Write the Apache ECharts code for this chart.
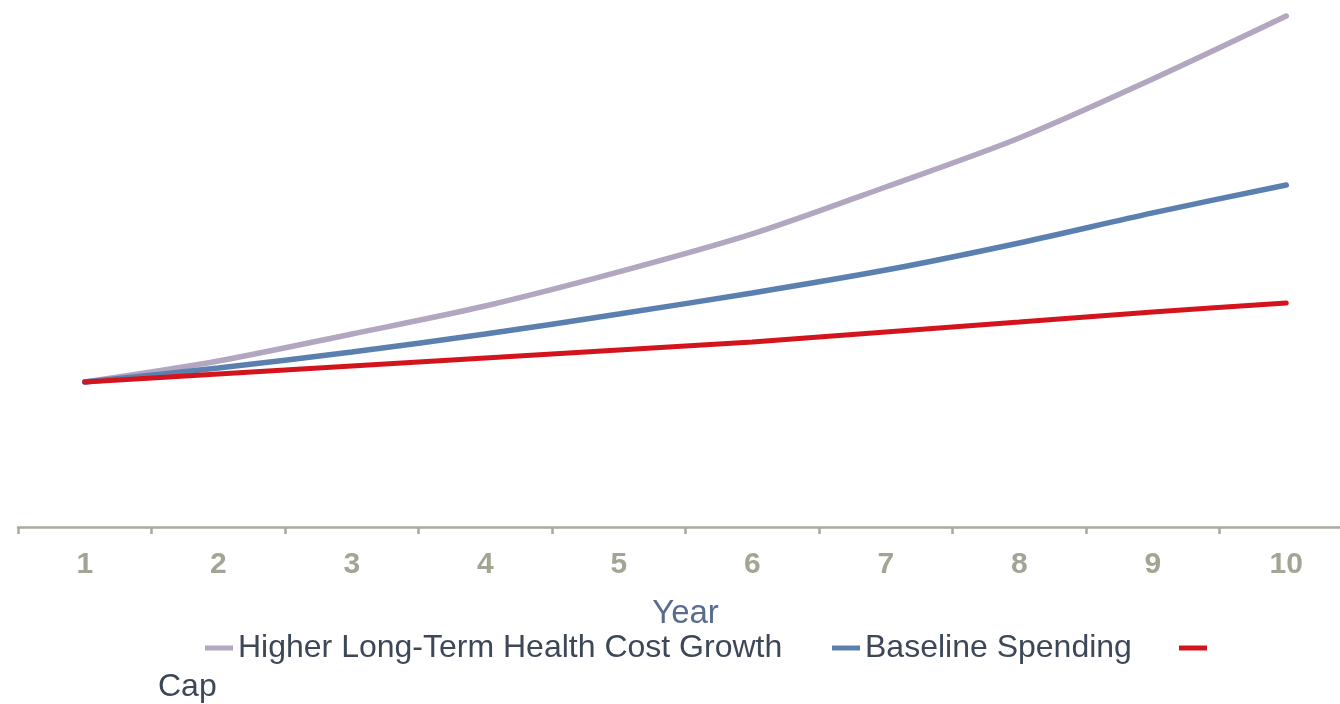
<!DOCTYPE html>
<html>
<head>
<meta charset="utf-8">
<title>Health Spending Projections</title>
<script src="https://cdn.jsdelivr.net/npm/echarts@6/dist/echarts.min.js"></script>
<style>
  html, body { margin: 0; padding: 0; background: #ffffff; overflow: hidden; }
  /* the plot runs slightly past the right edge of the window */
  #chart { width: 1353px; height: 704px; }
</style>
</head>
<body>
<div id="chart"></div>
<script>
// Projection years
const years = ['1', '2', '3', '4', '5', '6', '7', '8', '9', '10'];

// Spending index (year 1 = 100)
const higherGrowth = [100, 114.5, 133.1, 152.4, 175.9, 202.1, 234.5, 268.3, 309.0, 352.4];
const baseline     = [100, 109.7, 120.7, 133.1, 146.9, 161.4, 177.2, 195.9, 216.6, 235.9];
const cap          = [100, 105.5, 111.0, 116.6, 122.1, 127.6, 134.5, 141.4, 148.3, 154.5];

const seriesNames = ['Higher Long-Term Health Cost Growth', 'Baseline Spending', 'Cap'];
const seriesColors = ['#b2a6c0', '#5b80b0', '#d4141c'];

const FONT = '"Liberation Sans", Arial, sans-serif';
const legendText = { color: '#3d4757', fontSize: 32, fontFamily: FONT, lineHeight: 34 };

const chart = echarts.init(document.getElementById('chart'), null, { renderer: 'canvas' });

function legendAt(name, left, showText) {
  return {
    data: [name],
    left: left,
    top: 631,
    orient: 'horizontal',
    icon: 'rect',
    itemWidth: 28,
    itemHeight: 5,
    padding: 0,
    selectedMode: false,
    formatter: showText ? '{name}' : ' ',
    textStyle: legendText
  };
}

chart.setOption({
  animation: false,
  backgroundColor: '#ffffff',
  color: seriesColors,
  grid: { left: 18, right: 0, top: 5, bottom: 177, containLabel: false },
  legend: [
    legendAt(seriesNames[0], 205, true),
    legendAt(seriesNames[1], 832, true),
    legendAt(seriesNames[2], 1179, false)
  ],
  graphic: [{
    type: 'text',
    left: 158,
    top: 671,
    style: { text: 'Cap', fill: '#3d4757', font: '32px ' + FONT }
  }],
  xAxis: {
    type: 'category',
    data: years,
    boundaryGap: true,
    name: 'Year',
    nameLocation: 'middle',
    nameGap: 70,
    nameTextStyle: { color: '#5a6c8e', fontSize: 33, fontFamily: FONT },
    axisLine: { lineStyle: { color: '#a9a99f', width: 2.5 } },
    axisTick: { show: true, length: 7, lineStyle: { color: '#a9a99f', width: 2.5 } },
    axisLabel: { color: '#a4a495', fontSize: 30, fontWeight: 'bold', fontFamily: FONT, margin: 23 },
    splitLine: { show: false }
  },
  yAxis: {
    type: 'value',
    min: 0,
    max: 360,
    show: false,
    splitLine: { show: false }
  },
  series: [
    { name: seriesNames[0], type: 'line', data: higherGrowth, smooth: 0.3, showSymbol: false,
      lineStyle: { width: 5.5, color: seriesColors[0], cap: 'round' } },
    { name: seriesNames[1], type: 'line', data: baseline, smooth: 0.3, showSymbol: false,
      lineStyle: { width: 5.5, color: seriesColors[1], cap: 'round' } },
    { name: seriesNames[2], type: 'line', data: cap, smooth: 0.3, showSymbol: false,
      lineStyle: { width: 5, color: seriesColors[2], cap: 'round' } }
  ]
});
</script>
</body>
</html>
